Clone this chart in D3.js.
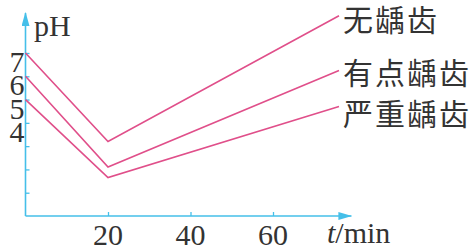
<!DOCTYPE html>
<html>
<head>
<meta charset="utf-8">
<script src="https://cdn.jsdelivr.net/npm/d3@7"></script>
<style>
  body { margin: 0; background: #fff; }
</style>
</head>
<body>
<script>
// pH of dental plaque after sugar intake
const times = [0, 20, 76];
const groups = ["无龋齿", "有点龋齿", "严重龋齿"];
const phNone = [7, 3.2, 8.6];
const phSome = [6, 2.1, 6.25];
const phSevere = [5, 1.65, 4.7];
const xTicks = [20, 40, 60];
const yTicks = [1, 2, 3, 4, 5, 6, 7];
const yLabels = [4, 5, 6, 7];

const width = 476, height = 248;
const axisColor = "#45bfe9";
const lineColor = "#e04f8a";
const textColor = "#333";
const numFont = "'Liberation Serif', 'DejaVu Serif', serif";
const cjkFont = "'Noto Sans CJK SC', sans-serif";

const x = d3.scaleLinear().domain([0, 20]).range([25.5, 108]);
const y = d3.scaleLinear().domain([0, 7]).range([216, 53]);

const svg = d3.select("body").append("svg")
  .attr("width", width)
  .attr("height", height);

const defs = svg.append("defs");
defs.append("marker")
  .attr("id", "arrow")
  .attr("viewBox", "0 0 14 8")
  .attr("refX", 13)
  .attr("refY", 4)
  .attr("markerUnits", "userSpaceOnUse")
  .attr("markerWidth", 14)
  .attr("markerHeight", 8)
  .attr("orient", "auto")
  .append("path")
  .attr("d", "M0,0 L14,4 L0,8 Z")
  .attr("fill", axisColor);

// axes
const yAxis = svg.append("g")
  .attr("transform", `translate(${x(0)},0)`)
  .call(d3.axisLeft(y).tickValues(yTicks).tickSize(-4).tickFormat(""));
const xAxis = svg.append("g")
  .attr("transform", `translate(0,${y(0)})`)
  .call(d3.axisBottom(x).tickValues(xTicks).tickSize(-4).tickFormat(""));
[yAxis, xAxis].forEach(a => {
  a.select(".domain").remove();
  a.selectAll(".tick line").attr("stroke", axisColor).attr("stroke-width", 1.3);
});

svg.append("line")
  .attr("x1", x(0)).attr("y1", y(0))
  .attr("x2", x(0)).attr("y2", y(8.72))
  .attr("stroke", axisColor).attr("stroke-width", 1.6)
  .attr("marker-end", "url(#arrow)");
svg.append("line")
  .attr("x1", x(0)).attr("y1", y(0))
  .attr("x2", x(79)).attr("y2", y(0))
  .attr("stroke", axisColor).attr("stroke-width", 1.6)
  .attr("marker-end", "url(#arrow)");

// tick labels
svg.append("g").selectAll("text")
  .data(yLabels)
  .join("text")
  .attr("x", x(0) - 1)
  .attr("y", d => y(d) + 19)
  .attr("text-anchor", "end")
  .attr("font-family", numFont)
  .attr("font-size", 30)
  .attr("fill", textColor)
  .text(d => d);

svg.append("g").selectAll("text")
  .data(xTicks)
  .join("text")
  .attr("x", d => x(d))
  .attr("y", y(0) + 29)
  .attr("text-anchor", "middle")
  .attr("font-family", numFont)
  .attr("font-size", 30)
  .attr("fill", textColor)
  .text(d => d);

svg.append("text")
  .attr("x", 34).attr("y", 36)
  .attr("font-family", numFont)
  .attr("font-size", 30)
  .attr("fill", textColor)
  .text("pH");

const tl = svg.append("text")
  .attr("x", 327).attr("y", 243)
  .attr("font-family", numFont)
  .attr("font-size", 30)
  .attr("fill", textColor);
tl.append("tspan").attr("font-style", "italic").text("t");
tl.append("tspan").text("/min");

// series lines
const series = [phNone, phSome, phSevere];
const labelNudge = [2, 1, 5];
const line = d3.line()
  .x((d, i) => x(times[i]))
  .y(d => y(d));

svg.append("g").selectAll("path")
  .data(series)
  .join("path")
  .attr("d", line)
  .attr("fill", "none")
  .attr("stroke", lineColor)
  .attr("stroke-width", 1.6);

svg.append("g").selectAll("text")
  .data(groups)
  .join("text")
  .attr("x", x(times[times.length - 1]) + 4)
  .attr("y", (d, i) => y(series[i][series[i].length - 1]) + labelNudge[i])
  .attr("dominant-baseline", "central")
  .attr("font-family", cjkFont)
  .attr("font-size", 30)
  .attr("letter-spacing", 2)
  .attr("fill", textColor)
  .text(d => d);
</script>
</body>
</html>
